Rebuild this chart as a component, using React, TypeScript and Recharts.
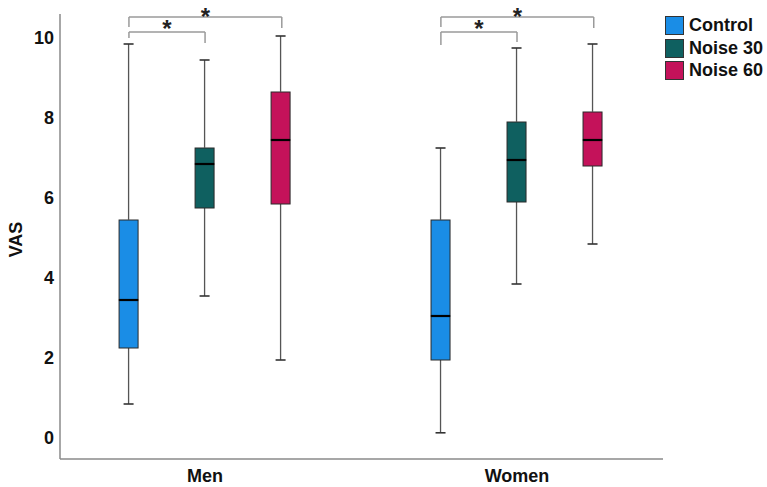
import React from 'react';
import { ComposedChart, Bar, XAxis, YAxis, ReferenceLine, ReferenceDot, Legend } from 'recharts';

const categories = ['Men', 'Women'];
const categoryX = [1, 2];
const seriesNames = ['Control', 'Noise 30', 'Noise 60'];
const seriesKeys = ['control', 'noise30', 'noise60'];
// [min, q1, median, q3, max] per category
const controlStats = [[0.85, 2.25, 3.45, 5.45, 9.85], [0.13, 1.95, 3.05, 5.45, 7.25]];
const noise30Stats = [[3.55, 5.75, 6.85, 7.25, 9.45], [3.85, 5.9, 6.95, 7.9, 9.75]];
const noise60Stats = [[1.95, 5.85, 7.45, 8.65, 10.05], [4.85, 6.8, 7.45, 8.15, 9.85]];
const yTicks = [0, 2, 4, 6, 8, 10];
const groupOffsets = [-0.244, 0, 0.246];
// significance brackets: [fromSeries, toSeries, barY, fromEndY, toEndY, starY]
const menBrackets = [
  [0, 1, 10.15, 10.0, 9.875, 10.325],
  [0, 2, 10.525, 10.275, 10.25, 10.625],
];
const womenBrackets = [
  [0, 1, 10.15, 9.825, 9.9, 10.325],
  [0, 2, 10.525, 10.275, 10.25, 10.625],
];

const COLORS = ['#1a8de6', '#0f6060', '#c4125a'];
const FONT = '"Liberation Sans", Arial, sans-serif';

const allStats = [controlStats, noise30Stats, noise60Stats];
const data = categories.map((name, i) => {
  const row: any = { name, x: categoryX[i] };
  seriesKeys.forEach((k, s) => {
    const [mn, q1, md, q3, mx] = allStats[s][i];
    row[`${k}_base`] = mn;
    row[`${k}_lw`] = q1 - mn;
    row[`${k}_lb`] = md - q1;
    row[`${k}_ub`] = q3 - md;
    row[`${k}_uw`] = mx - q3;
  });
  return row;
});

const Empty = () => null;

const LowerWhisker = (p: any) => {
  const cx = p.x + p.width / 2;
  const yb = p.y + p.height;
  return (
    <g>
      <line x1={cx} x2={cx} y1={p.y} y2={yb} stroke="#555" strokeWidth={1.3} />
      <line x1={cx - 5} x2={cx + 5} y1={yb} y2={yb} stroke="#333" strokeWidth={1.6} />
    </g>
  );
};

const UpperWhisker = (p: any) => {
  const cx = p.x + p.width / 2;
  return (
    <g>
      <line x1={cx} x2={cx} y1={p.y} y2={p.y + p.height} stroke="#555" strokeWidth={1.3} />
      <line x1={cx - 5} x2={cx + 5} y1={p.y} y2={p.y} stroke="#333" strokeWidth={1.6} />
    </g>
  );
};

const makeLowerBox = (color: string) => (p: any) => (
  <rect x={p.x} y={p.y} width={p.width} height={p.height} fill={color} stroke="#2a2a2a" strokeWidth={1} />
);

const makeUpperBox = (color: string) => (p: any) => (
  <g>
    <rect x={p.x} y={p.y} width={p.width} height={p.height} fill={color} stroke="#2a2a2a" strokeWidth={1} />
    <line x1={p.x} x2={p.x + p.width} y1={p.y + p.height} y2={p.y + p.height} stroke="#000" strokeWidth={2.2} />
  </g>
);

const LegendContent = () => (
  <div style={{ fontFamily: FONT, fontWeight: 'bold', fontSize: 18, color: '#111' }}>
    {seriesNames.map((n, i) => (
      <div key={n} style={{ display: 'flex', alignItems: 'center', height: 22.5 }}>
        <div
          style={{
            width: 17,
            height: 17,
            background: COLORS[i],
            border: '1px solid #333',
            marginRight: 5,
          }}
        />
        <span>{n}</span>
      </div>
    ))}
  </div>
);

const StarLabel = (props: any) => {
  const vb = props.viewBox || {};
  const cx = vb.x + (vb.width || 0) / 2;
  const cy = vb.y + (vb.height || 0) / 2;
  return (
    <text x={cx} y={cy + 12} textAnchor="middle" fontFamily={FONT} fontWeight="bold" fontSize={24} fill="#222">
      *
    </text>
  );
};

const VasLabel = (props: any) => {
  const vb = props.viewBox || {};
  const x = vb.x + 16;
  const y = vb.y + vb.height / 2 + 3;
  return (
    <text
      x={x}
      y={y}
      transform={`rotate(-90, ${x}, ${y})`}
      textAnchor="middle"
      dominantBaseline="central"
      fontFamily={FONT}
      fontWeight="bold"
      fontSize={18}
      fill="#111"
    >
      VAS
    </text>
  );
};

export default function App() {
  const bracketSets = [menBrackets, womenBrackets];
  return (
    <div style={{ position: 'absolute', left: 0, top: 0, background: '#fff', fontFamily: FONT }}>
      <ComposedChart
        width={767}
        height={487}
        data={data}
        margin={{ top: 14, right: 104, bottom: 0, left: 0 }}
        barSize={19}
        barGap={57}
      >
        <XAxis
          dataKey="x"
          type="number"
          domain={[0.535, 2.468]}
          ticks={categoryX}
          tickFormatter={(v: number) => categories[categoryX.indexOf(v)] ?? ''}
          height={28}
          tickSize={0}
          tickLine={false}
          tickMargin={10}
          axisLine={{ stroke: '#8a8a8a', strokeWidth: 1.5 }}
          tick={{ fontSize: 18, fontWeight: 'bold', fill: '#111', fontFamily: FONT }}
          allowDataOverflow
        />
        <YAxis
          type="number"
          domain={[-0.525, 10.6]}
          ticks={yTicks}
          width={60}
          tickSize={0}
          tickLine={false}
          tickMargin={6}
          axisLine={{ stroke: '#8a8a8a', strokeWidth: 1.5 }}
          tick={{ fontSize: 18, fontWeight: 'bold', fill: '#111', fontFamily: FONT }}
          allowDataOverflow
          label={<VasLabel />}
        />
        <Legend
          layout="vertical"
          align="center"
          verticalAlign="middle"
          content={<LegendContent />}
          wrapperStyle={{ top: 14.5, left: 665, width: 102 }}
        />
        {seriesKeys.map((k, s) => [
          <Bar key={`${k}_base`} dataKey={`${k}_base`} stackId={k} fill="none" shape={<Empty />} isAnimationActive={false} legendType="none" />,
          <Bar key={`${k}_lw`} dataKey={`${k}_lw`} stackId={k} shape={<LowerWhisker />} isAnimationActive={false} legendType="none" />,
          <Bar key={`${k}_lb`} dataKey={`${k}_lb`} stackId={k} fill={COLORS[s]} shape={makeLowerBox(COLORS[s])} isAnimationActive={false} legendType="none" />,
          <Bar key={`${k}_ub`} dataKey={`${k}_ub`} stackId={k} fill={COLORS[s]} shape={makeUpperBox(COLORS[s])} isAnimationActive={false} legendType="none" />,
          <Bar key={`${k}_uw`} dataKey={`${k}_uw`} stackId={k} shape={<UpperWhisker />} isAnimationActive={false} legendType="none" />,
        ])}
        {bracketSets.map((set, ci) =>
          set.map((b, bi) => {
            const [from, to, by, fy, ty] = b;
            const x1 = categoryX[ci] + groupOffsets[from];
            const x2 = categoryX[ci] + groupOffsets[to];
            const st = { stroke: '#9a9a9a', strokeWidth: 1.5 };
            return [
              <ReferenceLine key={`h${ci}${bi}`} segment={[{ x: x1, y: by }, { x: x2, y: by }]} {...st} ifOverflow="visible" />,
              <ReferenceLine key={`l${ci}${bi}`} segment={[{ x: x1, y: by }, { x: x1, y: fy }]} {...st} ifOverflow="visible" />,
              <ReferenceLine key={`r${ci}${bi}`} segment={[{ x: x2, y: by }, { x: x2, y: ty }]} {...st} ifOverflow="visible" />,
            ];
          })
        )}
        {bracketSets.map((set, ci) =>
          set.map((b, bi) => {
            const [from, to, , , , sy] = b;
            const xm = categoryX[ci] + (groupOffsets[from] + groupOffsets[to]) / 2;
            return (
              <ReferenceDot
                key={`s${ci}${bi}`}
                x={xm}
                y={sy}
                r={1}
                fill="none"
                stroke="none"
                ifOverflow="visible"
                label={<StarLabel />}
              />
            );
          })
        )}
      </ComposedChart>
    </div>
  );
}
